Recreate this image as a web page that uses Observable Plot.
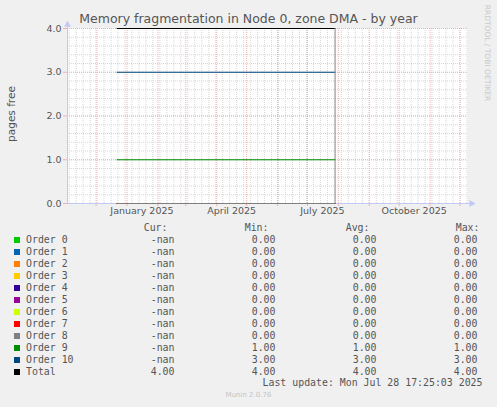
<!DOCTYPE html>
<html lang="en">
<head>
<meta charset="UTF-8">
<script src="https://cdn.jsdelivr.net/npm/d3@7"></script>
<script src="https://cdn.jsdelivr.net/npm/@observablehq/plot@0.6"></script>
<style>
    body {margin: 0; background: #f0f0f0;}
    #chart {position: relative; width: 497px; height: 407px; background: #f0f0f0; overflow: hidden; font-family: "DejaVu Sans"; color: #555;}
    .abs {position: absolute; white-space: pre;}
    .mono {font-family: "DejaVu Sans Mono"; font-size: 9.9px; line-height: 12px; height: 12px;}
</style>
<title>Memory fragmentation</title>
</head>
<body>
<div id="chart">
    <div id="plot" class="abs" style="left:0;top:0"></div>
    <div class="abs" style="left:0;top:11px;width:497px;text-align:center;font-size:12.5px;line-height:16px;color:#555">Memory fragmentation in Node 0, zone DMA - by year</div>
    <div class="abs" style="left:11px;top:114px;font-size:10.5px;line-height:12px;transform:translate(-50%,-50%) rotate(-90deg);color:#555">pages free</div>
    <div class="abs" style="left:487px;top:53px;font-size:7.5px;line-height:8px;transform:translate(-50%,-50%) rotate(90deg);color:#c8c8c8">RRDTOOL / TOBI OETIKER</div>
    <div class="abs" style="left:0;top:391px;width:497px;text-align:center;font-size:7px;color:#c4c4c4">Munin 2.0.76</div>
</div>
<script>
// series and legend values
const series = ["Order 0", "Order 1", "Order 2", "Order 3", "Order 4", "Order 5",
                "Order 6", "Order 7", "Order 8", "Order 9", "Order 10", "Total"];
const colors = ["#00cc00", "#0066b3", "#ff8000", "#ffcc00", "#330099", "#990099",
                "#ccff00", "#ff0000", "#808080", "#008f00", "#00487d", "#000000"];
const curValues = ["-nan", "-nan", "-nan", "-nan", "-nan", "-nan",
                   "-nan", "-nan", "-nan", "-nan", "-nan", "4.00"];
const minValues = [0, 0, 0, 0, 0, 0, 0, 0, 0, 1, 3, 4];
const avgValues = [0, 0, 0, 0, 0, 0, 0, 0, 0, 1, 3, 4];
const maxValues = [0, 0, 0, 0, 0, 0, 0, 0, 0, 1, 3, 4];
const dataStart = new Date("2024-12-22T00:00Z");
const dataEnd = new Date("2025-07-28T17:25:03Z");
const lastUpdate = "Last update: Mon Jul 28 17:25:03 2025";

// axes
const xDomain = [new Date("2024-11-02T08:00Z"), new Date("2025-12-08T12:00Z")];
const yDomain = [0, 4];
const xLabelDates = [new Date("2025-01-16"), new Date("2025-04-16"), new Date("2025-07-16"), new Date("2025-10-16")];
const yTicks = [0, 1, 2, 3, 4];
const yMinorTicks = d3.range(0, 4.001, 0.2);

const gridMinor = "#d6d6d6";
const gridMajor = "#f0b0b0";
const axisColor = "#c3c9f5";

const table = series.flatMap((s, i) => [
    {date: dataStart, value: avgValues[i], s},
    {date: dataEnd, value: avgValues[i], s}
]);
const mondays = d3.utcMonday.range(xDomain[0], xDomain[1]);
const months = d3.utcMonth.range(xDomain[0], xDomain[1]);

const plot = Plot.plot({
    width: 497,
    height: 220,
    marginLeft: 67,
    marginRight: 30,
    marginTop: 28,
    marginBottom: 17,
    style: {fontFamily: "DejaVu Sans", fontSize: "9.5px", color: "#555", background: "transparent", overflow: "visible"},
    x: {type: "utc", domain: xDomain, axis: null},
    y: {domain: yDomain, axis: null},
    color: {domain: series, range: colors},
    marks: [
        Plot.frame({fill: "white", stroke: null}),
        Plot.ruleX(mondays, {stroke: gridMinor, strokeDasharray: "1,1"}),
        Plot.ruleY(yMinorTicks, {stroke: gridMinor, strokeDasharray: "1,1"}),
        Plot.ruleX(months, {stroke: gridMajor, strokeDasharray: "1,1"}),
        Plot.ruleY(yTicks, {stroke: gridMajor, strokeDasharray: "1,1"}),
        Plot.axisX({ticks: months, tickSize: 3, tickFormat: () => "", stroke: gridMajor}),
        Plot.axisX({ticks: xLabelDates, tickSize: 0, tickPadding: 4, tickFormat: d3.utcFormat("%B %Y"), fill: "#555", label: null}),
        Plot.axisY({ticks: yTicks, tickSize: 4, tickPadding: 2, tickFormat: d3.format(".1f"), stroke: gridMajor, fill: "#555", label: null}),
        Plot.ruleX([xDomain[0]], {y1: 0, y2: yDomain[1] * 1.03, stroke: axisColor}),
        Plot.ruleY([0], {x1: xDomain[0], x2: d3.utcDay.offset(xDomain[1], 5), stroke: axisColor}),
        Plot.dot([xDomain[0]], {x: d => d, y: yDomain[1] * 1.022, symbol: "triangle", r: 2.6, fill: axisColor, stroke: null}),
        Plot.dot([d3.utcDay.offset(xDomain[1], 4)], {x: d => d, y: 0, symbol: "triangle", r: 2.6, rotate: 90, fill: axisColor, stroke: null}),
        Plot.line(table, {x: "date", y: "value", z: "s", stroke: "s", strokeWidth: 1}),
        Plot.ruleX([dataEnd], {y1: 0, y2: avgValues[11], stroke: "#8c8c8c"})
    ]
});
document.getElementById("plot").append(plot);

// legend
const chart = document.getElementById("chart");
function put(text, right, top) {
    const el = document.createElement("div");
    el.className = "abs mono";
    el.textContent = text;
    el.style.top = top + "px";
    el.style.right = (497 - right) + "px";
    el.style.textAlign = "right";
    chart.append(el);
    return el;
}
put("Cur:", 167.5, 221.7);
put("Min:", 268.5, 221.7);
put("Avg:", 369.5, 221.7);
put("Max:", 479.5, 221.7);
series.forEach((s, i) => {
    const top = 233.7 + i * 12;
    const sw = document.createElement("div");
    sw.className = "abs";
    Object.assign(sw.style, {left: "14px", top: (top + 3) + "px", width: "6px", height: "6px", background: colors[i]});
    chart.append(sw);
    const name = document.createElement("div");
    name.className = "abs mono";
    name.textContent = s;
    Object.assign(name.style, {left: "26px", top: top + "px"});
    chart.append(name);
    put(curValues[i], 174.5, top);
    put(minValues[i].toFixed(2), 275.5, top);
    put(avgValues[i].toFixed(2), 376.5, top);
    put(maxValues[i].toFixed(2), 477.5, top);
});
put(lastUpdate, 482.5, 377.3);
</script>
</body>
</html>
